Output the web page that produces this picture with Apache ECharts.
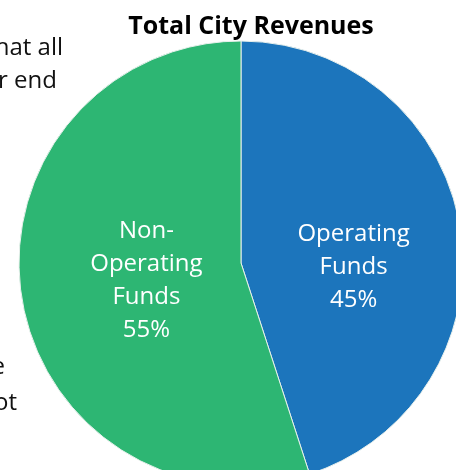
<!DOCTYPE html>
<html>
<head>
    <meta charset="utf-8">
    <title>Total City Revenues</title>
    <style>
        html, body { margin: 0; padding: 0; background: #fff; }
    </style>
</head>
<body>
    <div id="main" style="width: 456px;height:470px;"></div>
    <script src="https://cdn.jsdelivr.net/npm/echarts@6/dist/echarts.min.js"></script>
    <script type="text/javascript">
        var myChart = echarts.init(document.getElementById('main'));

        // 数据
        var categories = ['Operating\nFunds', 'Non-\nOperating\nFunds'];
        var shares = [45, 55];
        var colors = ['#1c75bc', '#2db673'];
        // 标签微调
        var labelShift = [[0, 22], [18, 0]];

        var pieData = categories.map(function (name, i) {
            return { name: name, value: shares[i], itemStyle: { color: colors[i] } };
        });

        var option = {
            animation: false,
            title: {
                text: 'Total City Revenues',
                left: 246,
                top: 9,
                textAlign: 'center',
                textStyle: {
                    fontFamily: 'Open Sans',
                    fontWeight: 'bold',
                    fontSize: 25,
                    color: '#000'
                }
            },
            // 背景中被截断的正文
            graphic: [
                { type: 'text', right: 393, top: 36, style: { text: 'hat all', font: '24px "Open Sans"', fill: '#111', textAlign: 'right' } },
                { type: 'text', right: 399, top: 69, style: { text: 'r end', font: '24px "Open Sans"', fill: '#111', textAlign: 'right' } },
                { type: 'text', right: 451, top: 355, style: { text: 'e', font: '24px "Open Sans"', fill: '#111', textAlign: 'right' } },
                { type: 'text', right: 439, top: 391, style: { text: 'ot', font: '24px "Open Sans"', fill: '#111', textAlign: 'right' } }
            ],
            series: [{
                type: 'pie',
                center: [241, 263],
                radius: 222,
                startAngle: 90,
                clockwise: true,
                data: pieData,
                itemStyle: {
                    borderColor: '#e8f0ec',
                    borderWidth: 1
                },
                label: {
                    show: true,
                    position: 'inside',
                    formatter: '{b}\n{c}%',
                    color: '#fff',
                    fontFamily: 'Open Sans',
                    fontSize: 24,
                    lineHeight: 33
                },
                labelLine: { show: false },
                labelLayout: function (params) {
                    var s = labelShift[params.dataIndex];
                    return { dx: s[0], dy: s[1] };
                },
                emphasis: { disabled: true }
            }]
        };

        myChart.setOption(option);
    </script>
</body>
</html>
